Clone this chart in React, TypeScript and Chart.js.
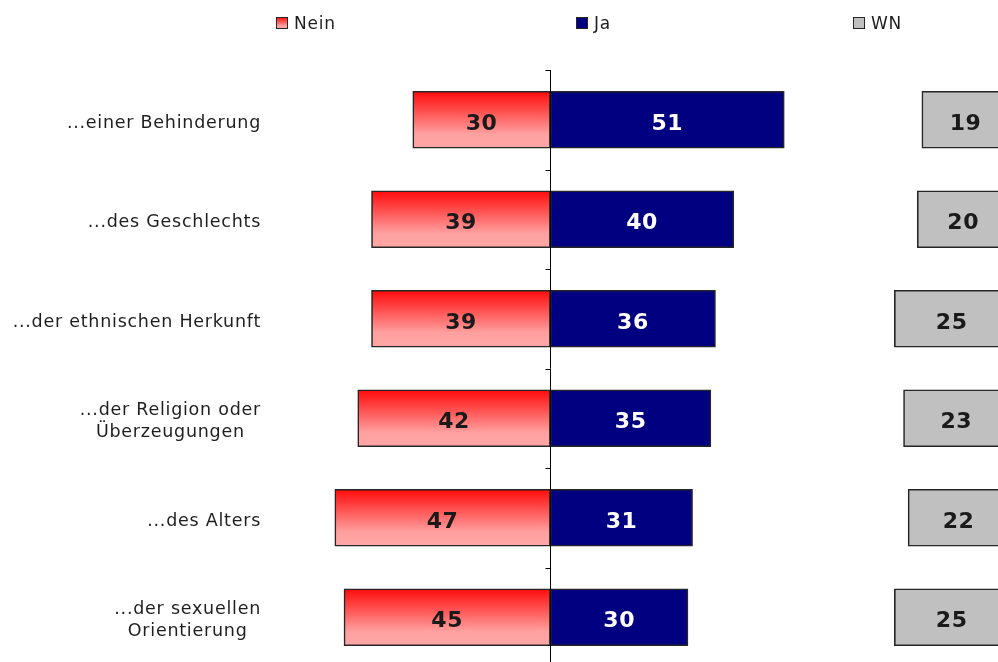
import React, { useEffect, useRef } from 'react';
import { Chart, registerables } from 'chart.js';

Chart.register(...registerables);

const categories: string[][] = [
  ['...einer Behinderung'],
  ['...des Geschlechts'],
  ['...der ethnischen Herkunft'],
  ['...der Religion oder', 'Überzeugungen'],
  ['...des Alters'],
  ['...der sexuellen', 'Orientierung'],
];
const neinValues = [30, 39, 39, 42, 47, 45];
const jaValues = [51, 40, 36, 35, 31, 30];
const wnValues = [19, 20, 25, 23, 22, 25];
const legendLabels = ['Nein', 'Ja', 'WN'];
const WN_END = 100;

const FONT = '"DejaVu Sans", Verdana, sans-serif';
const BORDER = '#262626';

function redGradient(c: CanvasRenderingContext2D, y0: number, y1: number) {
  const g = c.createLinearGradient(0, y0, 0, y1);
  g.addColorStop(0, '#FF0A0A');
  g.addColorStop(0.75, '#FFA0A0');
  g.addColorStop(1, '#FFA6A6');
  return g;
}

const overlay = {
  id: 'overlay',
  afterDatasetsDraw(chart: any) {
    const c: any = chart.ctx;
    const xs = chart.scales.x;
    const ys = chart.scales.y;
    const area = chart.chartArea;
    const x0 = Math.round(xs.getPixelForValue(0)) + 0.5;
    c.save();
    // center axis
    c.strokeStyle = '#000';
    c.lineWidth = 1;
    c.beginPath();
    c.moveTo(x0, area.top);
    c.lineTo(x0, area.bottom);
    for (let i = 0; i <= categories.length; i++) {
      const y = Math.round(ys.getPixelForValue(i - 0.5)) + 0.5;
      c.moveTo(x0 - 5, y);
      c.lineTo(x0, y);
    }
    c.stroke();

    // category labels
    c.font = `17.5px ${FONT}`;
    c.letterSpacing = '0.75px';
    c.fillStyle = '#1e1e1e';
    c.textBaseline = 'alphabetic';
    c.textAlign = 'center';
    const rightEdge = 261;
    const lh = 22;
    categories.forEach((lines, i) => {
      const yc = ys.getPixelForValue(i);
      const maxW = Math.max(...lines.map((l: string) => c.measureText(l).width));
      const cx = rightEdge - maxW / 2;
      lines.forEach((l, j) => {
        const y = yc + 8 + (j - (lines.length - 1) / 2) * lh;
        c.fillText(l, cx, y);
      });
    });

    // value labels
    c.font = `bold 22px ${FONT}`;
    c.letterSpacing = '0.5px';
    const drawVal = (v: number, center: number, i: number, color: string) => {
      c.fillStyle = color;
      c.fillText(String(v), xs.getPixelForValue(center), ys.getPixelForValue(i) + 10);
    };
    neinValues.forEach((v, i) => drawVal(v, -v / 2, i, '#1a1a1a'));
    jaValues.forEach((v, i) => drawVal(v, v / 2, i, '#ffffff'));
    wnValues.forEach((v, i) => drawVal(v, WN_END - v / 2, i, '#1a1a1a'));

    // legend
    const legendX = [276, 576, 853];
    const ly = 23;
    c.font = `17px ${FONT}`;
    c.letterSpacing = '0.8px';
    c.textAlign = 'left';
    legendLabels.forEach((lab, k) => {
      const bx = legendX[k] + 0.5;
      const by = ly - 5.5;
      let fill: any;
      if (k === 0) fill = redGradient(c, by, by + 11);
      else if (k === 1) fill = '#000080';
      else fill = '#C0C0C0';
      c.fillStyle = fill;
      c.fillRect(bx, by, 11, 11);
      c.strokeStyle = BORDER;
      c.lineWidth = 1;
      c.strokeRect(bx, by, 11, 11);
      c.fillStyle = '#1e1e1e';
      c.fillText(lab, legendX[k] + 18, ly + 6);
    });
    c.restore();
  },
};

export default function App() {
  const ref = useRef<HTMLCanvasElement>(null);
  useEffect(() => {
    if (!ref.current) return;
    const BAR = 57;
    const chart = new Chart(ref.current, {
      type: 'bar',
      data: {
        labels: categories.map((l) => l.join(' ')),
        datasets: [
          {
            label: legendLabels[0],
            data: neinValues.map((v) => -v),
            backgroundColor: (ctx: any) => {
              const ch = ctx.chart;
              const ys = ch.scales?.y;
              if (!ys || ctx.dataIndex === undefined) return '#FF6060';
              const yc = ys.getPixelForValue(ctx.dataIndex);
              if (!Number.isFinite(yc)) return '#FF6060';
              return redGradient(ch.ctx, yc - BAR / 2, yc + BAR / 2);
            },
            borderColor: BORDER,
            borderWidth: 1.6,
            borderSkipped: false,
            grouped: false,
          } as any,
          {
            label: legendLabels[1],
            data: jaValues,
            backgroundColor: '#000080',
            borderColor: BORDER,
            borderWidth: 1.6,
            borderSkipped: false,
            grouped: false,
          } as any,
          {
            label: legendLabels[2],
            data: wnValues.map((v) => [WN_END - v, WN_END]),
            backgroundColor: '#C0C0C0',
            borderColor: BORDER,
            borderWidth: 1.6,
            borderSkipped: false,
            grouped: false,
          } as any,
        ],
      },
      options: {
        indexAxis: 'y',
        animation: false,
        responsive: false,
        events: [],
        layout: { padding: { top: 70, left: 0, right: 0, bottom: 0 } },
        datasets: { bar: { barThickness: BAR, categoryPercentage: 1 } } as any,
        scales: {
          x: { display: false, min: -120, max: 97.6, grid: { display: false } },
          y: { display: false, grid: { display: false } },
        },
        plugins: { legend: { display: false }, tooltip: { enabled: false } },
      },
      plugins: [overlay],
    });
    return () => chart.destroy();
  }, []);
  return (
    <div style={{ position: 'absolute', left: 0, top: 0, width: 998, height: 662, overflow: 'hidden', background: '#fff' }}>
      <canvas ref={ref} width={998} height={667} style={{ display: 'block' }} />
    </div>
  );
}
